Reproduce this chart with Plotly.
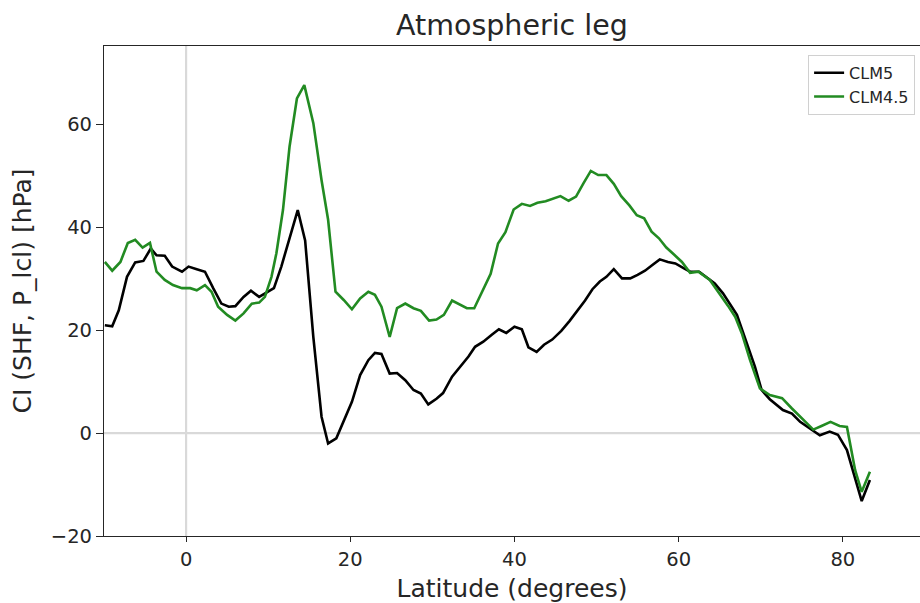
import plotly.graph_objects as go

# Atmospheric-leg coupling index by latitude for two land-model versions
lat_clm5 = [-9.9, -9.0, -8.2, -7.2, -6.2, -5.2, -4.3, -3.6, -2.6, -1.7, -0.5, 0.3, 1.3, 2.3,
            3.3, 4.3, 5.2, 6.0, 7.0, 7.9, 8.9, 9.8, 10.7, 11.6, 12.7, 13.6, 14.5, 15.5,
            16.5, 17.3, 18.3, 19.2, 20.2, 21.2, 22.2, 23.0, 23.8, 24.8, 25.7, 26.7, 27.7,
            28.6, 29.5, 30.5, 31.3, 32.4, 33.4, 34.4, 35.2, 36.2, 37.2, 38.1, 39.0, 40.0,
            40.9, 41.7, 42.7, 43.6, 44.6, 45.7, 46.7, 47.7, 48.6, 49.5, 50.4, 51.2, 52.1,
            53.1, 54.1, 55.0, 55.9, 56.8, 57.7, 58.7, 59.6, 60.6, 61.4, 62.5, 63.6, 64.4,
            65.4, 66.2, 67.1, 68.3, 69.3, 70.1, 71.1, 72.7, 73.8, 74.8, 76.0, 77.2, 78.4,
            79.4, 80.5, 81.5, 82.3, 83.3]
ci_clm5 = [21.0, 20.8, 23.9, 30.4, 33.2, 33.5, 35.9, 34.6, 34.5, 32.4, 31.4, 32.4, 31.9, 31.4,
           28.2, 25.2, 24.6, 24.7, 26.5, 27.7, 26.5, 27.3, 28.2, 32.4, 38.2, 43.4, 37.5, 18.7,
           3.2, -2.0, -1.0, 2.5, 6.1, 11.3, 14.2, 15.6, 15.4, 11.6, 11.7, 10.3, 8.4,
           7.7, 5.6, 6.7, 7.8, 11.0, 13.0, 14.9, 16.8, 17.8, 19.1, 20.2, 19.5, 20.7,
           20.2, 16.7, 15.8, 17.2, 18.2, 19.9, 21.8, 23.8, 25.8, 28.0, 29.5, 30.4, 31.9,
           30.1, 30.1, 30.8, 31.6, 32.7, 33.8, 33.3, 33.0, 32.1, 31.4, 31.4, 30.0, 29.1,
           27.2, 25.3, 23.0, 17.5, 12.9, 8.4, 6.6, 4.5, 3.8, 2.2, 0.9, -0.4, 0.3,
           -0.3, -3.3, -9.1, -13.2, -9.1]

lat_clm45 = [-9.9, -9.0, -8.0, -7.1, -6.2, -5.3, -4.4, -3.6, -2.6, -1.6, -0.5, 0.5, 1.3, 2.3,
             3.1, 3.9, 5.0, 6.0, 7.0, 8.0, 8.9, 9.6, 10.4, 11.0, 11.8, 12.6, 13.5, 14.4,
             15.5, 16.5, 17.3, 18.2, 19.2, 20.2, 21.2, 22.2, 23.0, 23.8, 24.8, 25.7, 26.7,
             27.7, 28.6, 29.6, 30.5, 31.4, 32.4, 33.4, 34.2, 35.1, 36.1, 37.1, 38.0, 38.9,
             39.9, 40.9, 41.9, 42.8, 43.8, 44.6, 45.6, 46.6, 47.5, 48.4, 49.3, 50.2, 51.2,
             52.1, 53.0, 54.0, 54.9, 55.8, 56.7, 57.6, 58.5, 59.4, 60.4, 61.4, 62.4, 63.8,
             65.0, 66.0, 66.9, 67.7, 68.7, 69.9, 71.1, 72.6, 73.8, 75.2, 76.4, 77.4, 78.5,
             79.6, 80.5, 81.5, 82.3, 83.3]
ci_clm45 = [33.3, 31.6, 33.3, 37.0, 37.6, 36.1, 37.0, 31.4, 29.8, 28.8, 28.2, 28.2, 27.8, 28.8,
            27.5, 24.6, 23.0, 21.9, 23.3, 25.2, 25.4, 26.5, 30.4, 35.0, 43.4, 55.7, 65.1, 67.7,
            60.3, 49.2, 41.5, 27.5, 25.9, 24.1, 26.2, 27.5, 26.9, 24.6, 18.7, 24.3, 25.2,
            24.3, 23.8, 21.9, 22.1, 23.0, 25.8, 24.9, 24.3, 24.3, 27.8, 31.0, 36.9, 39.1,
            43.5, 44.6, 44.2, 44.8, 45.1, 45.5, 46.1, 45.2, 46.0, 48.6, 51.0, 50.2, 50.2,
            48.5, 46.1, 44.3, 42.4, 41.8, 39.2, 37.9, 36.1, 34.8, 33.3, 31.2, 31.4, 29.8,
            27.2, 24.8, 22.6, 19.4, 14.2, 8.7, 7.4, 6.8, 4.8, 2.5, 0.7, 1.4, 2.2,
            1.4, 1.2, -7.2, -11.4, -7.5]

x_ticks = [0, 20, 40, 60, 80]
y_ticks = [-20, 0, 20, 40, 60]

FONT = "DejaVu Sans"
AXIS_COLOR = "#262626"

fig = go.Figure()

# light reference lines through the equator and zero coupling
fig.add_vline(x=0, line=dict(color="#d9d9d9", width=2.2), layer="below")
fig.add_hline(y=0, line=dict(color="#d9d9d9", width=2.2), layer="below")

fig.add_trace(go.Scatter(x=lat_clm5, y=ci_clm5, mode="lines", name="CLM5",
                         line=dict(color="black", width=2.6)))
fig.add_trace(go.Scatter(x=lat_clm45, y=ci_clm45, mode="lines", name="CLM4.5",
                         line=dict(color="#228B22", width=2.6)))

fig.update_layout(
    width=920, height=603,
    margin=dict(l=104, r=0, t=46, b=67),
    paper_bgcolor="white", plot_bgcolor="white",
    font=dict(family=FONT, color=AXIS_COLOR),
    title=dict(text="Atmospheric leg", x=0.5565, xanchor="center",
               y=1 - 25 / 603, yanchor="middle",
               font=dict(family=FONT, size=28.5, color=AXIS_COLOR)),
    showlegend=True,
    legend=dict(x=0.994, xanchor="right", y=0.982, yanchor="top",
                bgcolor="white", bordercolor="#d0d0d0", borderwidth=1,
                font=dict(family=FONT, size=16, color=AXIS_COLOR),
                entrywidth=88, entrywidthmode="pixels",
                tracegroupgap=2),
)

fig.update_xaxes(
    range=[-10, 89.4], tickvals=x_ticks, ticktext=[str(v) for v in x_ticks],
    showgrid=False, zeroline=False,
    showline=True, linecolor=AXIS_COLOR, linewidth=1.2, mirror=True,
    ticks="outside", ticklen=5, tickwidth=1.2, tickcolor=AXIS_COLOR,
    tickfont=dict(family=FONT, size=19.5, color=AXIS_COLOR),
    title=dict(text="Latitude (degrees)", standoff=9,
               font=dict(family=FONT, size=25, color=AXIS_COLOR)),
)
fig.update_yaxes(
    range=[-20, 75.3], tickvals=y_ticks,
    ticktext=["\u221220" if v < 0 else str(v) for v in y_ticks],
    showgrid=False, zeroline=False,
    showline=True, linecolor=AXIS_COLOR, linewidth=1.2, mirror=False,
    ticks="outside", ticklen=7, tickwidth=1.2, tickcolor=AXIS_COLOR,
    tickfont=dict(family=FONT, size=19.5, color=AXIS_COLOR),
    title=dict(text="CI (SHF, P_lcl) [hPa]", standoff=12,
               font=dict(family=FONT, size=25, color=AXIS_COLOR)),
)

fig.write_html("out.html")
